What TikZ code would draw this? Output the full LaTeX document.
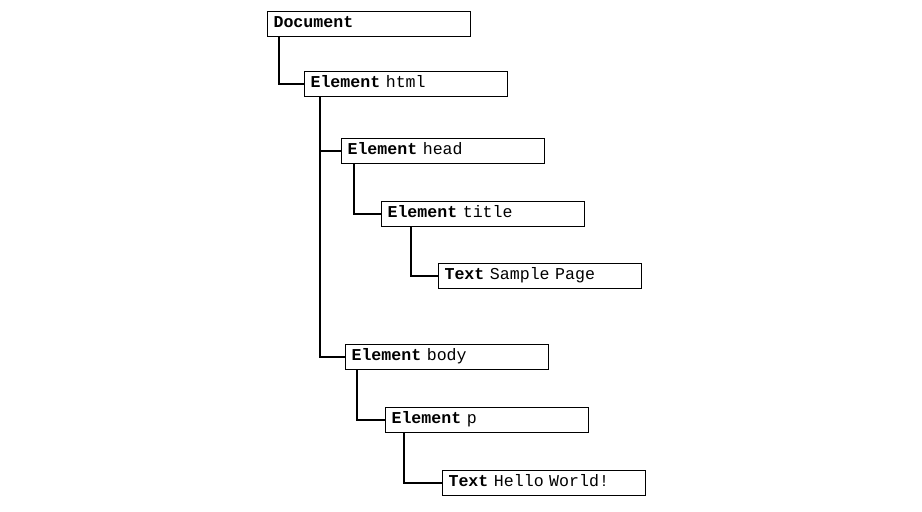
\documentclass[tikz,border=0pt]{standalone}
\usepackage{fontspec}
\setmonofont{Liberation Mono}
\usepackage{tikz}
\usetikzlibrary{positioning}

\begin{document}
\begin{tikzpicture}[x=0.025cm, y=-0.025cm,
                    every node/.style={font=\ttfamily\fontsize{11.8}{13}\selectfont},
                    domnode/.style={draw, line width=0.8pt, anchor=north west,
                                    minimum width=5.075cm, minimum height=0.625cm,
                                    text width=4.775cm, align=left, inner xsep=0.15cm,
                                    text height=1.6ex, text depth=0.4ex},
                    branch/.style={line width=1pt}]
    %\draw[help lines] (0,0) grid (922,512);
   \useasboundingbox (0,0) rectangle (922,512);

   \node[domnode] (doc)    at (267,11)  {\textbf{Document}};
   \node[domnode] (html)   at (304,71)  {\textbf{Element} html};
   \node[domnode] (head)   at (341,138) {\textbf{Element} head};
   \node[domnode] (title)  at (381,201) {\textbf{Element} title};
   \node[domnode] (sample) at (438,263) {\textbf{Text} Sample Page};
   \node[domnode] (body)   at (345,344) {\textbf{Element} body};
   \node[domnode] (p)      at (385,407) {\textbf{Element} p};
   \node[domnode] (hello)  at (442,470) {\textbf{Text} Hello World!};

   % Define connections
   \draw[branch] ([xshift=0.3cm]doc.south west)    |- (html);
   \draw[branch] ([xshift=0.4cm]html.south west)   |- (head);
   \draw[branch] ([xshift=0.4cm]html.south west)   |- (body);
   \draw[branch] ([xshift=0.325cm]head.south west) |- (title);
   \draw[branch] ([xshift=0.75cm]title.south west) |- (sample);
   \draw[branch] ([xshift=0.3cm]body.south west)   |- (p);
   \draw[branch] ([xshift=0.475cm]p.south west)    |- (hello);

\end{tikzpicture}
\end{document}
